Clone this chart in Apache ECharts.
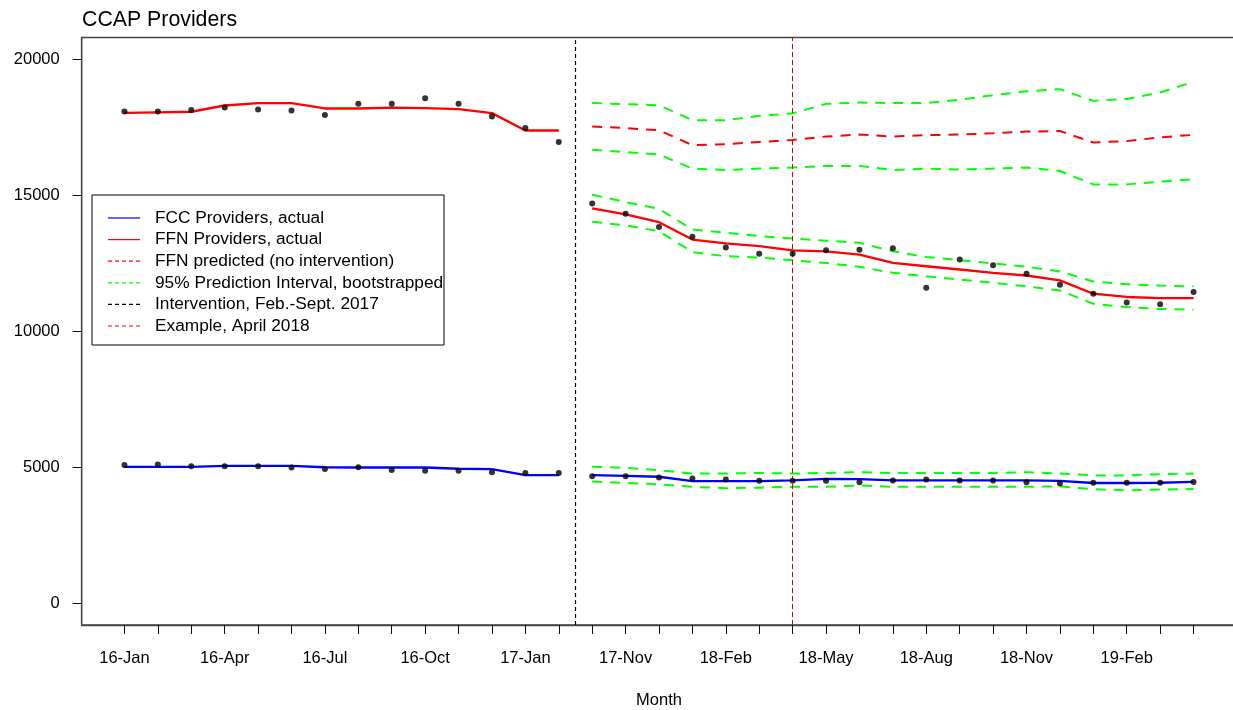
<!DOCTYPE html>
<html>
<head>
<meta charset="utf-8">
<script src="https://cdn.jsdelivr.net/npm/echarts@6/dist/echarts.min.js"></script>
<style>
html,body{margin:0;padding:0;background:#fff;}
#chart{width:1233px;height:710px;}
</style>
</head>
<body>
<div id="chart"></div>
<script>
// Months shown on the x axis (Mar-Sep 2017 omitted: intervention period)
const monthsPre = ['16-Jan','16-Feb','16-Mar','16-Apr','16-May','16-Jun','16-Jul','16-Aug','16-Sep','16-Oct','16-Nov','16-Dec','17-Jan','17-Feb'];
const monthsPost = ['17-Oct','17-Nov','17-Dec','18-Jan','18-Feb','18-Mar','18-Apr','18-May','18-Jun','18-Jul','18-Aug','18-Sep','18-Oct','18-Nov','18-Dec','19-Jan','19-Feb','19-Mar','19-Apr'];
const tickLabels = ['16-Jan','16-Apr','16-Jul','16-Oct','17-Jan','17-Nov','18-Feb','18-May','18-Aug','18-Nov','19-Feb'];
const yTicks = [0, 5000, 10000, 15000, 20000];
const interventionMonth = 13.5;   // position between 17-Feb and 17-Oct
const exampleMonth = '18-Apr';

// FFN (family, friend and neighbour) providers
const ffnActualPre = [18080, 18080, 18130, 18230, 18150, 18120, 17950, 18360, 18360, 18570, 18360, 17900, 17470, 16960];
const ffnFitPre    = [18030, 18050, 18070, 18300, 18390, 18390, 18190, 18190, 18220, 18200, 18170, 18020, 17380, 17380];
const ffnActualPost = [14700, 14320, 13830, 13470, 13080, 12850, 12850, 12980, 13000, 13050, 11600, 12640, 12430, 12110, 11710, 11380, 11060, 10990, 11440];
const ffnFitPost    = [14520, 14300, 14010, 13370, 13230, 13130, 12970, 12940, 12820, 12510, 12390, 12270, 12150, 12050, 11870, 11380, 11260, 11220, 11220];
const ffnFitUpper   = [15020, 14750, 14500, 13740, 13620, 13500, 13410, 13330, 13250, 12940, 12730, 12610, 12490, 12370, 12200, 11830, 11730, 11680, 11650];
const ffnFitLower   = [14030, 13890, 13680, 12910, 12760, 12710, 12610, 12510, 12370, 12150, 12020, 11900, 11780, 11650, 11500, 11010, 10890, 10820, 10790];
const ffnPredicted  = [17530, 17470, 17390, 16840, 16880, 16960, 17030, 17160, 17230, 17160, 17210, 17230, 17280, 17340, 17360, 16940, 16990, 17130, 17220];
const ffnPredUpper  = [18390, 18350, 18310, 17760, 17760, 17920, 18010, 18360, 18410, 18390, 18390, 18510, 18680, 18820, 18900, 18470, 18540, 18780, 19170];
const ffnPredLower  = [16670, 16590, 16500, 15980, 15930, 15980, 16020, 16080, 16080, 15930, 15980, 15950, 15980, 16020, 15890, 15400, 15400, 15500, 15590];

// FCC (family child care) providers
const fccActualPre = [5080, 5100, 5040, 5040, 5040, 4990, 4940, 5000, 4900, 4870, 4870, 4820, 4790, 4790];
const fccFitPre    = [5015, 5015, 5015, 5050, 5050, 5050, 5000, 4990, 4990, 4990, 4945, 4930, 4710, 4710];
const fccActualPost = [4670, 4670, 4620, 4590, 4550, 4500, 4500, 4500, 4450, 4510, 4550, 4510, 4510, 4450, 4400, 4430, 4430, 4430, 4460];
const fccFitPost    = [4710, 4680, 4650, 4490, 4490, 4490, 4520, 4570, 4560, 4520, 4520, 4520, 4520, 4520, 4500, 4420, 4420, 4430, 4460];
const fccFitUpper   = [5015, 4980, 4890, 4770, 4770, 4790, 4770, 4790, 4820, 4790, 4790, 4790, 4790, 4820, 4770, 4700, 4700, 4745, 4770];
const fccFitLower   = [4475, 4425, 4375, 4280, 4230, 4250, 4280, 4280, 4330, 4280, 4280, 4280, 4280, 4280, 4300, 4190, 4155, 4180, 4200];

const legendItems = [
  {name: 'FCC Providers, actual', color: '#0000FF', dashed: false},
  {name: 'FFN Providers, actual', color: '#FF0000', dashed: false},
  {name: 'FFN predicted (no intervention)', color: '#FF0000', dashed: true},
  {name: '95% Prediction Interval, bootstrapped', color: '#00FF00', dashed: true},
  {name: 'Intervention, Feb.-Sept. 2017', color: '#000000', dashed: true},
  {name: 'Example, April 2018', color: '#FF0000', dashed: true}
];

const months = monthsPre.concat(monthsPost);
const postStart = monthsPre.length;
const pre = arr => arr.map((v, i) => [i, v]);
const post = arr => arr.map((v, i) => [postStart + i, v]);

const FONT = '"Liberation Sans", Arial, sans-serif';
const DASH = [10, 8];

function lineSeries(data, color, dashed, width) {
  return {
    type: 'line', data: data, symbol: 'none', silent: true,
    lineStyle: {color: color, width: width, type: dashed ? DASH : 'solid'},
    z: 3
  };
}
function pointSeries(data) {
  return {
    type: 'scatter', data: data, symbol: 'circle', symbolSize: 6, silent: true,
    itemStyle: {color: '#000'}, z: 5
  };
}

const series = [
  lineSeries(post(ffnPredUpper), '#00FF00', true, 2),
  lineSeries(post(ffnPredLower), '#00FF00', true, 2),
  lineSeries(post(ffnPredicted), '#FF0000', true, 2),
  lineSeries(post(ffnFitUpper), '#00FF00', true, 2),
  lineSeries(post(ffnFitLower), '#00FF00', true, 2),
  lineSeries(post(fccFitUpper), '#00FF00', true, 2),
  lineSeries(post(fccFitLower), '#00FF00', true, 2),
  lineSeries(pre(ffnFitPre), '#FF0000', false, 2.3),
  lineSeries(post(ffnFitPost), '#FF0000', false, 2.3),
  lineSeries(pre(fccFitPre), '#0000FF', false, 2.3),
  lineSeries(post(fccFitPost), '#0000FF', false, 2.3),
  pointSeries(pre(ffnActualPre)),
  pointSeries(post(ffnActualPost)),
  pointSeries(pre(fccActualPre)),
  pointSeries(post(fccActualPost)),
  {
    type: 'line', data: [], silent: true,
    markLine: {
      silent: true, symbol: 'none', animation: false,
      label: {show: false},
      data: [
        {xAxis: interventionMonth, lineStyle: {color: '#000', width: 1.2, type: [4, 3]}},
        {xAxis: months.indexOf(exampleMonth), lineStyle: {color: '#E00000', width: 1, type: [5, 3]}}
      ]
    }
  }
];

// Legend drawn as a boxed key (as in the R original)
const lgLeft = 92, lgTop = 195, lgW = 352, lgH = 150, rowH = 21.6, firstRow = 218;
const legendChildren = [{
  type: 'rect', shape: {x: lgLeft, y: lgTop, width: lgW, height: lgH},
  style: {fill: '#fff', stroke: '#000', lineWidth: 1}
}];
legendItems.forEach((it, i) => {
  const y = firstRow + i * rowH;
  legendChildren.push({
    type: 'line', shape: {x1: 108, y1: y, x2: 140, y2: y},
    style: {stroke: it.color, lineWidth: 1.2, lineDash: it.dashed ? [4, 3] : null}
  });
  legendChildren.push({
    type: 'text', x: 155, y: y,
    style: {text: it.name, fill: '#000', font: '17.3px ' + FONT, textVerticalAlign: 'middle', textAlign: 'left'}
  });
});

const chart = echarts.init(document.getElementById('chart'), null, {renderer: 'canvas'});
chart.setOption({
  animation: false,
  backgroundColor: '#fff',
  title: {
    text: 'CCAP Providers', left: 82, top: 10, padding: 0,
    textStyle: {fontFamily: FONT, fontSize: 21.3, fontWeight: 'normal', color: '#000'}
  },
  grid: {
    left: 81.7, top: 37.5, width: 1154.6, height: 587.5,
    outerBoundsMode: 'none', containLabel: false,
    show: true, borderColor: '#444', borderWidth: 1.3, backgroundColor: 'transparent'
  },
  xAxis: {
    type: 'value', min: -1.28, max: 33.28,
    name: 'Month', nameLocation: 'middle', nameGap: 67,
    nameTextStyle: {fontFamily: FONT, fontSize: 16.5, color: '#000'},
    splitLine: {show: false},
    axisLine: {show: true, onZero: false, lineStyle: {color: '#444', width: 1.3}},
    axisTick: {show: true, length: 9, lineStyle: {color: '#111', width: 1}, customValues: months.map((m, i) => i)},
    axisLabel: {
      show: true, margin: 25, fontFamily: FONT, fontSize: 16.5, color: '#000',
      customValues: tickLabels.map(t => months.indexOf(t)),
      formatter: v => months[Math.round(v)] || ''
    }
  },
  yAxis: {
    type: 'value', min: -800, max: 20800,
    splitLine: {show: false},
    axisLine: {show: true, onZero: false, lineStyle: {color: '#444', width: 1.3}},
    axisTick: {show: true, length: 9, lineStyle: {color: '#111', width: 1}, customValues: yTicks},
    axisLabel: {
      show: true, margin: 22, fontFamily: FONT, fontSize: 16.5, color: '#000',
      customValues: yTicks, formatter: v => String(v)
    }
  },
  series: series,
  graphic: [{type: 'group', silent: true, z: 100, children: legendChildren}]
});
</script>
</body>
</html>
